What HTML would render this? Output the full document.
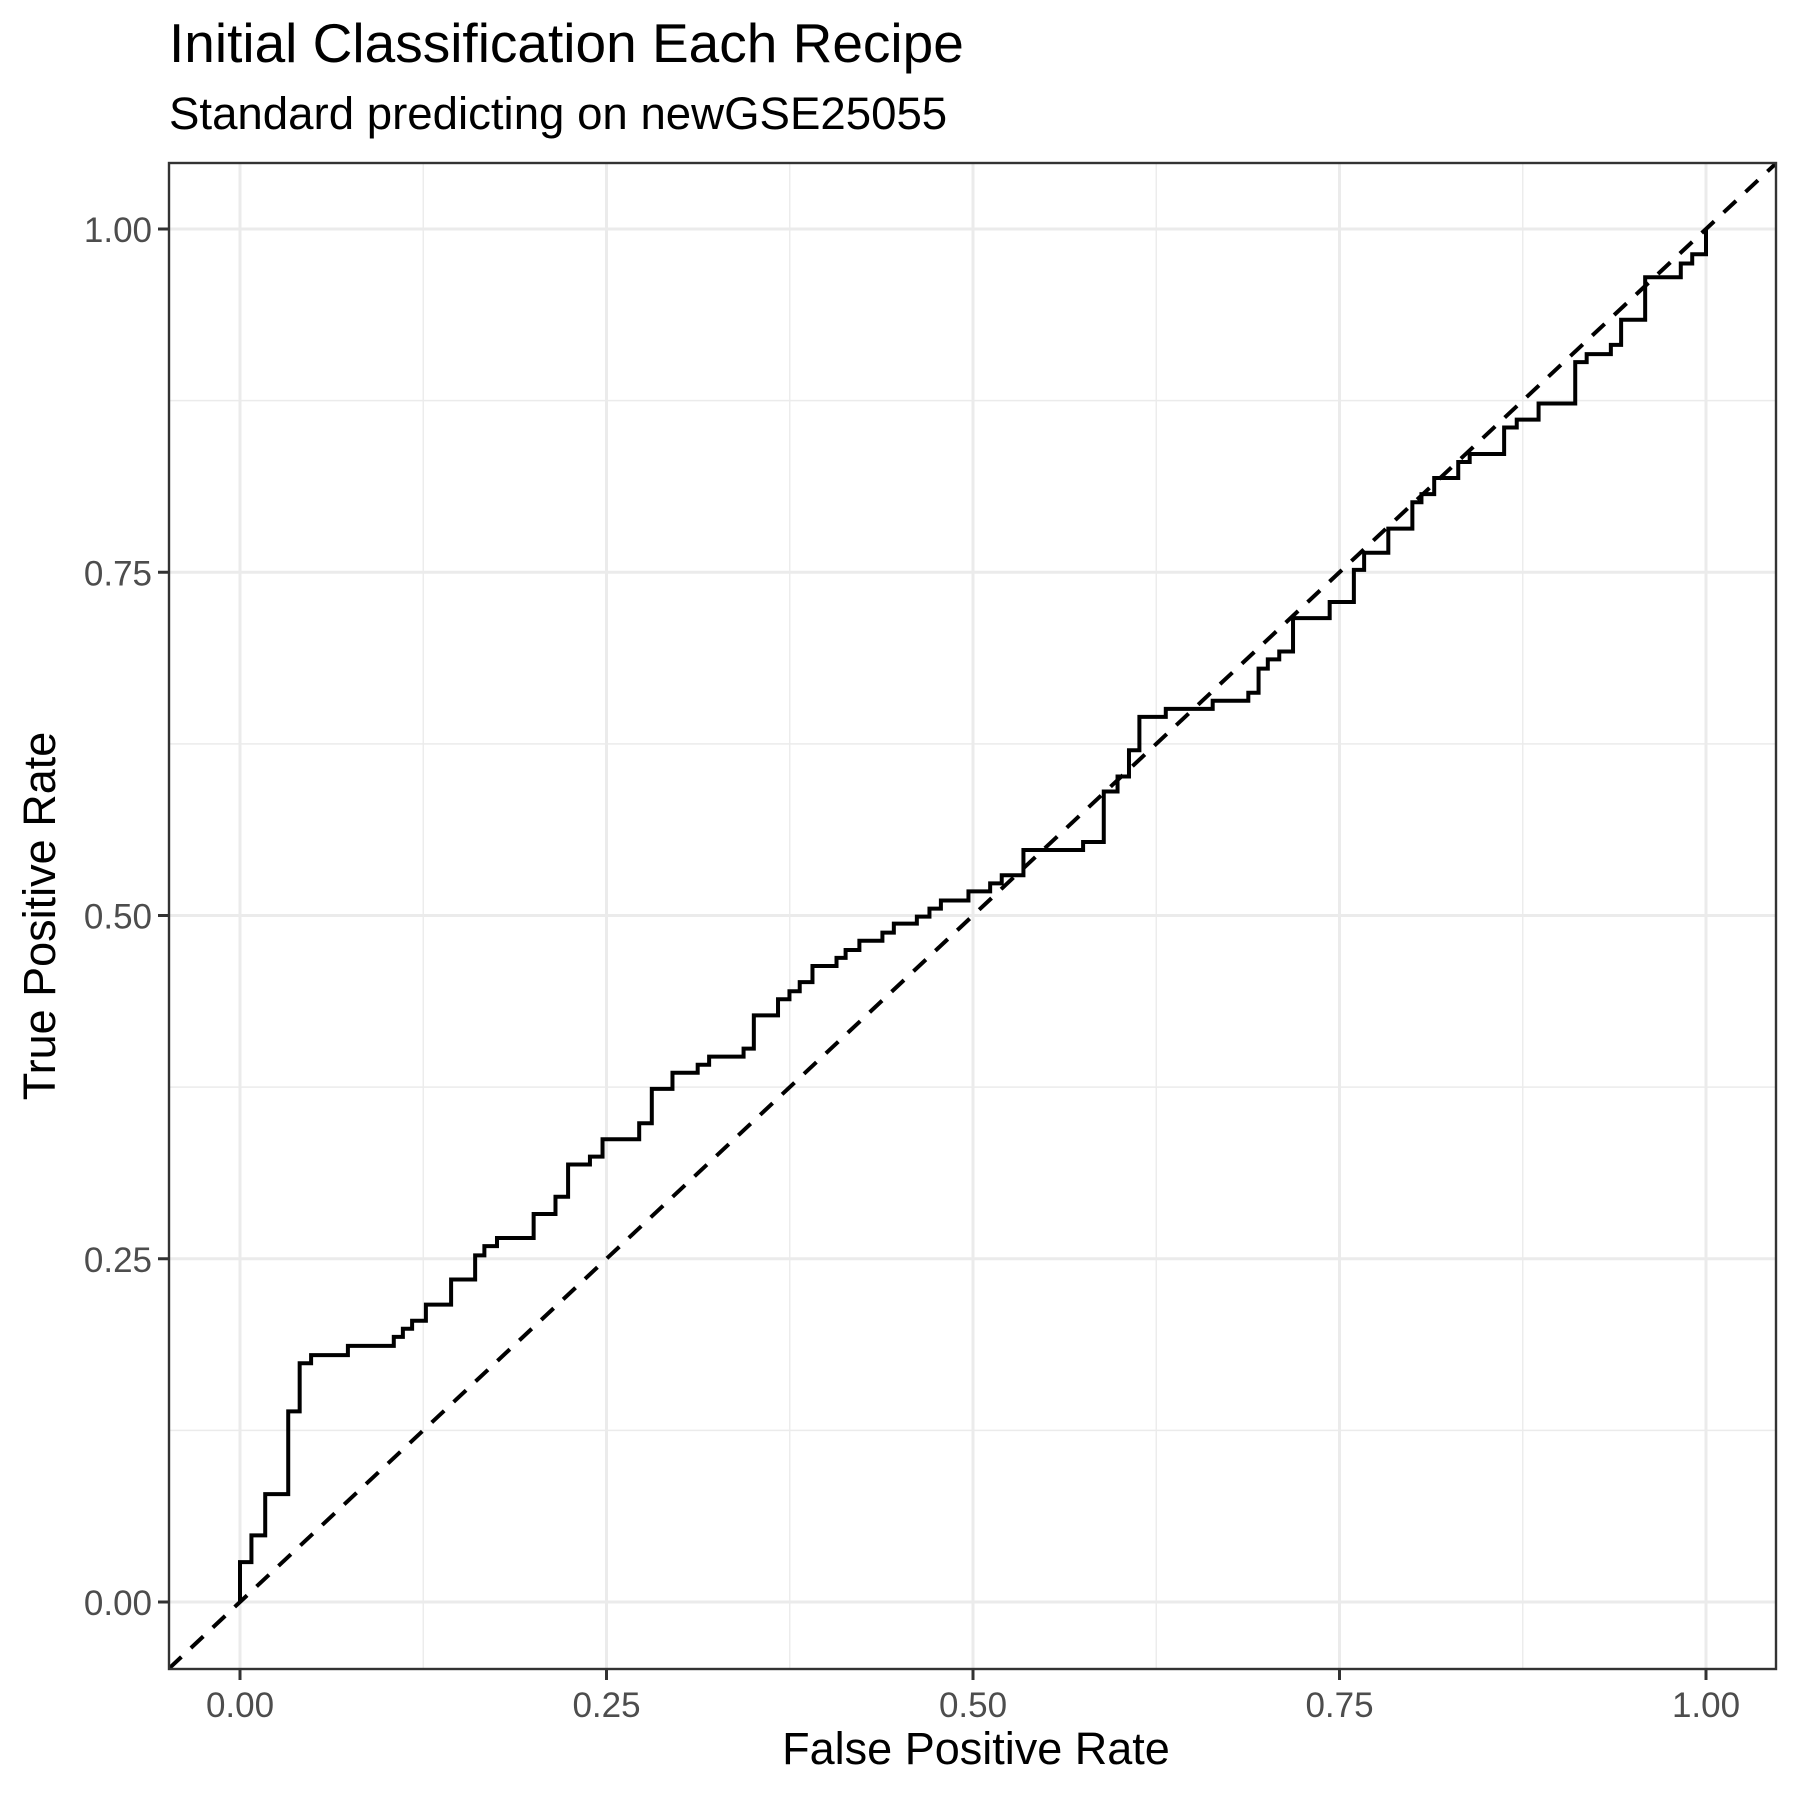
<!DOCTYPE html>
<html><head><meta charset="utf-8"><style>
html,body{margin:0;padding:0;background:#fff;}
svg{display:block;font-family:"Liberation Sans",Arial,sans-serif;}
</style></head><body>
<svg id="chart" width="1800" height="1800" viewBox="0 0 1800 1800" xmlns="http://www.w3.org/2000/svg">
<rect width="1800" height="1800" fill="#fff"/>
<text x="169" y="62" font-size="55" fill="#000">Initial Classification Each Recipe</text>
<text x="169" y="129" font-size="45.6" fill="#000">Standard predicting on newGSE25055</text>
<g id="grid"></g>
<g id="marks"></g>
<g id="axes"></g>
<text x="976" y="1764" font-size="45" text-anchor="middle" fill="#000">False Positive Rate</text>
<text transform="translate(55,916) rotate(-90)" font-size="45" text-anchor="middle" fill="#000">True Positive Rate</text>
</svg>
<script>
const fpr = [0,0,0.0078,0.0172,0.0329,0.0407,0.0485,0.0736,0.1049,0.1111,0.1174,0.1268,0.1440,0.1604,0.1667,0.1753,0.2003,0.2152,0.2238,0.2387,0.2473,0.2723,0.2809,0.2950,0.3122,0.3200,0.3435,0.3505,0.3670,0.3748,0.3818,0.3905,0.4069,0.4131,0.4225,0.4382,0.4460,0.4617,0.4703,0.4781,0.4969,0.5117,0.5196,0.5344,0.5751,0.5892,0.5986,0.6064,0.6135,0.6315,0.6635,0.6878,0.6948,0.7011,0.7089,0.7183,0.7433,0.7598,0.7668,0.7833,0.7997,0.8059,0.8146,0.8310,0.8388,0.8623,0.8709,0.8858,0.9108,0.9186,0.9351,0.9421,0.9585,0.9828,0.9906,1.0];
const tpr = [0,0.029,0.0485,0.0786,0.1388,0.1739,0.1798,0.1865,0.1931,0.1990,0.2048,0.2166,0.2349,0.2525,0.2592,0.2651,0.2826,0.2952,0.3186,0.3244,0.3370,0.3487,0.3737,0.3855,0.3913,0.3972,0.4030,0.4273,0.4390,0.4448,0.4515,0.4632,0.4691,0.4749,0.4816,0.4875,0.4941,0.4992,0.5050,0.5109,0.5176,0.5234,0.5293,0.5477,0.5535,0.5903,0.6012,0.6204,0.6447,0.6505,0.6564,0.6622,0.6798,0.6865,0.6923,0.7166,0.7283,0.7517,0.7642,0.7818,0.8010,0.8069,0.8186,0.8303,0.8361,0.8554,0.8612,0.8729,0.9030,0.9089,0.9156,0.9339,0.9649,0.9749,0.9816,1.0];
const majorTicks = [0,0.25,0.5,0.75,1];
const minorTicks = [0.125,0.375,0.625,0.875];
const tickLabels = ["0.00","0.25","0.50","0.75","1.00"];

const NS="http://www.w3.org/2000/svg";
const P={l:169,r:1776,t:163,b:1669};
const X0=240,X1=1706,Y0=1602,Y1=229;
const sx=v=>X0+(X1-X0)*v;
const sy=v=>Y0+(Y1-Y0)*v;
function mk(tag,attrs,parent){const e=document.createElementNS(NS,tag);for(const k in attrs)e.setAttribute(k,attrs[k]);parent.appendChild(e);return e;}
const grid=document.getElementById('grid'),marks=document.getElementById('marks'),axes=document.getElementById('axes');
mk('rect',{x:P.l,y:P.t,width:P.r-P.l,height:P.b-P.t,fill:'#fff'},grid);
minorTicks.forEach(v=>{
  const a=mk('line',{x1:sx(v),x2:sx(v),y1:P.t,y2:P.b,stroke:'#ebebeb','stroke-width':1.4},grid);
  
  
  const b=mk('line',{x1:P.l,x2:P.r,y1:sy(v),y2:sy(v),stroke:'#ebebeb','stroke-width':1.4},grid);
  
  
});
majorTicks.forEach((v,i)=>{
  const a=mk('line',{x1:sx(v),x2:sx(v),y1:P.t,y2:P.b,stroke:'#ebebeb','stroke-width':3},grid);
  
  
  const b=mk('line',{x1:P.l,x2:P.r,y1:sy(v),y2:sy(v),stroke:'#ebebeb','stroke-width':3},grid);
  
  
  const tx=mk('line',{x1:sx(v),x2:sx(v),y1:P.b,y2:P.b+11,stroke:'#333','stroke-width':3},axes);
  
  
  const ty=mk('line',{x1:P.l-11,x2:P.l,y1:sy(v),y2:sy(v),stroke:'#333','stroke-width':3},axes);
  
  
  const lx=mk('text',{x:sx(v),y:P.b+48,'font-size':35,'text-anchor':'middle',fill:'#4d4d4d'},axes);
  lx.textContent=tickLabels[i];
  
  
  const ly=mk('text',{x:P.l-17,y:sy(v)+13,'font-size':35,'text-anchor':'end',fill:'#4d4d4d'},axes);
  ly.textContent=tickLabels[i];
  
  
});
const cp=mk('clipPath',{id:'clip'},mk('defs',{},marks));
mk('rect',{x:P.l,y:P.t,width:P.r-P.l,height:P.b-P.t},cp);
const lo=(P.l-X0)/(X1-X0), hi=(P.r-X0)/(X1-X0);
const diag=mk('line',{x1:sx(lo),y1:sy(lo),x2:sx(hi),y2:sy(hi),stroke:'#000','stroke-width':4,'stroke-dasharray':'17,13','clip-path':'url(#clip)'},marks);


let d='M'+sx(fpr[0])+','+sy(tpr[0]);
for(let i=1;i<fpr.length;i++){d+=' H'+sx(fpr[i])+' V'+sy(tpr[i]);}
const roc=mk('path',{d:d,fill:'none',stroke:'#000','stroke-width':4,'stroke-linejoin':'miter'},marks);


const border=mk('rect',{x:P.l,y:P.t,width:P.r-P.l,height:P.b-P.t,fill:'none',stroke:'#333','stroke-width':2.4},axes);


</script>
</body></html>
